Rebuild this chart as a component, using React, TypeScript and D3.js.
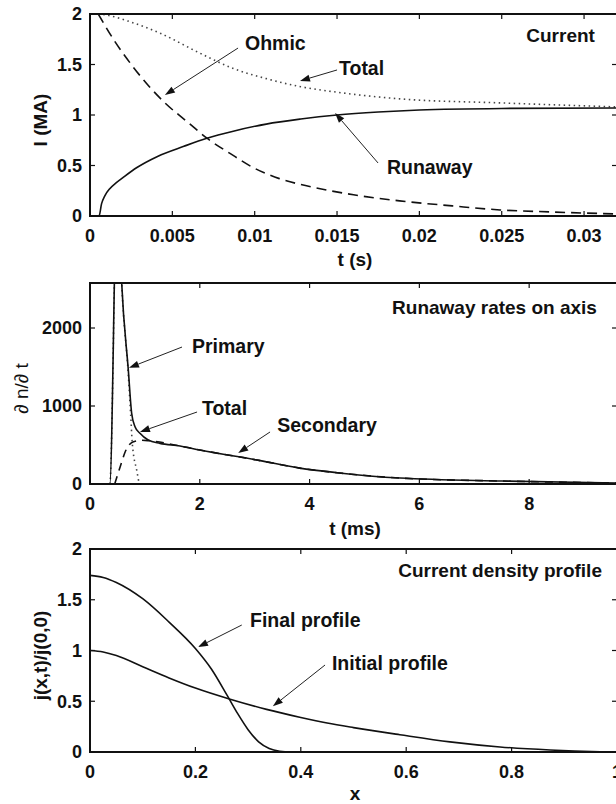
import React from "react";
import * as d3 from "d3";

// ---------- Panel 1: Current ----------
const curXTicks = [0, 0.005, 0.01, 0.015, 0.02, 0.025, 0.03];
const curYTicks = [0, 0.5, 1, 1.5, 2];
const runawayT = [0, 0.00055, 0.0007, 0.0009, 0.0012, 0.0016, 0.002, 0.00285, 0.0041, 0.0057, 0.0071, 0.0087, 0.0107, 0.0128, 0.015, 0.0175, 0.02, 0.025, 0.032];
const runawayI = [0, 0, 0.12, 0.2, 0.27, 0.33, 0.38, 0.48, 0.59, 0.69, 0.77, 0.84, 0.91, 0.96, 1.0, 1.03, 1.05, 1.065, 1.07];
const ohmicT = [0.0005, 0.0015, 0.0026, 0.0035, 0.00455, 0.006, 0.0071, 0.0085, 0.0099, 0.0115, 0.0134, 0.016, 0.0188, 0.022, 0.0249, 0.028, 0.032];
const ohmicI = [2.0, 1.73, 1.48, 1.3, 1.12, 0.92, 0.77, 0.62, 0.48, 0.37, 0.29, 0.21, 0.15, 0.1, 0.06, 0.04, 0.02];
const totalCurT = [0.0005, 0.001, 0.0023, 0.00425, 0.0067, 0.0087, 0.0107, 0.0128, 0.0148, 0.0188, 0.0249, 0.032];
const totalCurI = [2.0, 1.99, 1.93, 1.81, 1.61, 1.46, 1.36, 1.28, 1.23, 1.16, 1.12, 1.08];

// ---------- Panel 2: Runaway rates ----------
const rateXTicks = [0, 2, 4, 6, 8];
const rateYTicks = [0, 1000, 2000];
const rateTotalT = [0, 0.36, 0.5, 0.577, 0.698, 0.759, 0.82, 0.91, 1.06, 1.275, 1.64, 2.0, 3.1, 3.82, 4.5, 5.65, 7.5, 9.6];
const rateTotalV = [0, 0, 4000, 2580, 1460, 906, 735, 650, 564, 521, 487, 436, 300, 204, 145, 76, 38, 13];
const primaryT = [0, 0.36, 0.5, 0.577, 0.698, 0.74, 0.77, 0.85, 0.91, 1.0];
const primaryV = [0, 0, 4000, 2580, 1400, 900, 525, 180, 0, 0];
const secondaryT = [0.45, 0.55, 0.64, 0.78, 0.94, 1.06, 1.64, 2.0, 3.1, 3.82, 4.5, 5.65, 7.5, 9.6];
const secondaryV = [0, 220, 410, 540, 560, 556, 487, 436, 300, 204, 145, 76, 38, 13];

// ---------- Panel 3: Current density profile ----------
const profXTicks = [0, 0.2, 0.4, 0.6, 0.8, 1];
const profYTicks = [0, 0.5, 1, 1.5, 2];
const finalX = [0, 0.025, 0.05, 0.1, 0.15, 0.2, 0.23, 0.26, 0.28, 0.3, 0.32, 0.34, 0.36, 0.38, 0.45];
const finalJ = [1.74, 1.72, 1.67, 1.51, 1.28, 1.02, 0.82, 0.56, 0.38, 0.22, 0.1, 0.035, 0.008, 0, 0];
const initialX = [0, 0.025, 0.05, 0.1, 0.15, 0.2, 0.266, 0.335, 0.4, 0.45, 0.5, 0.588, 0.683, 0.778, 0.873, 0.968, 1.0];
const initialJ = [1.0, 0.985, 0.95, 0.84, 0.73, 0.63, 0.52, 0.42, 0.34, 0.285, 0.24, 0.17, 0.1, 0.05, 0.02, 0.003, 0];

// annotations: [label, textX, textY, tailX, tailY, headX, headY] in data units
const curNotes: [string, number, number, number, number, number, number][] = [
  ["Ohmic", 0.00941, 1.713, 0.00899, 1.663, 0.00455, 1.198],
  ["Total", 0.01512, 1.465, 0.015, 1.446, 0.01275, 1.337],
  ["Runaway", 0.01803, 0.485, 0.01749, 0.525, 0.01488, 1.02],
];
const rateNotes: [string, number, number, number, number, number, number][] = [
  ["Primary", 1.858, 1769, 1.676, 1756, 0.71, 1490],
  ["Total", 2.04, 974, 1.95, 923, 0.91, 667],
  ["Secondary", 3.41, 756, 3.28, 667, 2.7, 397],
];
const profNotes: [string, number, number, number, number, number, number][] = [
  ["Final profile", 0.3036, 1.3, 0.288, 1.251, 0.205, 1.034],
  ["Initial profile", 0.459, 0.877, 0.446, 0.857, 0.347, 0.45],
];

const FONT = "'Liberation Sans', Arial, Helvetica, sans-serif";
const X0 = 90;
const X1 = 617;

type Series = { xs: number[]; ys: number[]; dash?: string; color?: string; width?: number };

function Panel(props: {
  id: string;
  top: number;
  bottom: number;
  xDomain: [number, number];
  yDomain: [number, number];
  xTicks: number[];
  yTicks: number[];
  xFmt: (v: number) => string;
  series: Series[];
  notes: [string, number, number, number, number, number, number][];
  title: string;
  titleX: number;
  titleY: number;
  xLabel: string;
  xLabelY: number;
  yLabel: string;
  yLabelX: number;
  yLabelBold: boolean;
}) {
  const x = d3.scaleLinear().domain(props.xDomain).range([X0, X1]);
  const y = d3.scaleLinear().domain(props.yDomain).range([props.bottom, props.top]);
  const clipId = "clip-" + props.id;
  const tl = 5;
  const midY = (props.top + props.bottom) / 2;
  return (
    <g>
      <defs>
        <clipPath id={clipId}>
          <rect x={X0} y={props.top} width={X1 - X0} height={props.bottom - props.top} />
        </clipPath>
      </defs>
      <g clipPath={`url(#${clipId})`}>
        {props.series.map((s, i) => {
          const pts = s.xs.map((v, k) => [v, s.ys[k]] as [number, number]);
          const line = d3
            .line<[number, number]>()
            .x((d) => x(d[0]))
            .y((d) => y(d[1]))
            .curve(d3.curveMonotoneX);
          return (
            <path
              key={i}
              d={line(pts) || ""}
              fill="none"
              stroke={s.color || "#111"}
              strokeWidth={s.width || 1.6}
              strokeDasharray={s.dash}
            />
          );
        })}
      </g>
      <rect x={X0} y={props.top} width={X1 - X0} height={props.bottom - props.top} fill="none" stroke="#111" strokeWidth={2} />
      {props.xTicks.map((t, i) => (
        <g key={"xt" + i}>
          <line x1={x(t)} x2={x(t)} y1={props.bottom} y2={props.bottom - tl} stroke="#111" strokeWidth={1.2} />
          <line x1={x(t)} x2={x(t)} y1={props.top} y2={props.top + tl} stroke="#111" strokeWidth={1.2} />
          <text x={x(t)} y={props.bottom + 26} textAnchor="middle" fontFamily={FONT} fontWeight="bold" fontSize={18} fill="#111">
            {props.xFmt(t)}
          </text>
        </g>
      ))}
      {props.yTicks.map((t, i) => (
        <g key={"yt" + i}>
          <line x1={X0} x2={X0 + tl} y1={y(t)} y2={y(t)} stroke="#111" strokeWidth={1.2} />
          <line x1={X1} x2={X1 - tl} y1={y(t)} y2={y(t)} stroke="#111" strokeWidth={1.2} />
          <text x={X0 - 8} y={y(t)} dy="0.36em" textAnchor="end" fontFamily={FONT} fontWeight="bold" fontSize={18} fill="#111">
            {String(t)}
          </text>
        </g>
      ))}
      {props.notes.map((n, i) => {
        const [label, tx, ty, ax, ay, hx, hy] = n;
        const x1 = x(ax), y1 = y(ay), x2 = x(hx), y2 = y(hy);
        const ang = Math.atan2(y2 - y1, x2 - x1);
        const L = 10, Wd = 3.5;
        const bx = x2 - L * Math.cos(ang), by = y2 - L * Math.sin(ang);
        const p1 = [bx + Wd * Math.sin(ang), by - Wd * Math.cos(ang)];
        const p2 = [bx - Wd * Math.sin(ang), by + Wd * Math.cos(ang)];
        return (
          <g key={"n" + i}>
            <line x1={x1} y1={y1} x2={bx} y2={by} stroke="#222" strokeWidth={1} />
            <polygon points={`${x2},${y2} ${p1[0]},${p1[1]} ${p2[0]},${p2[1]}`} fill="#111" />
            <text x={x(tx)} y={y(ty)} dy="0.36em" fontFamily={FONT} fontWeight="bold" fontSize={19.5} fill="#111">
              {label}
            </text>
          </g>
        );
      })}
      <text x={x(props.titleX)} y={y(props.titleY)} dy="0.36em" textAnchor="end" fontFamily={FONT} fontWeight="bold" fontSize={19} fill="#111">
        {props.title}
      </text>
      <text x={355} y={props.xLabelY} textAnchor="middle" fontFamily={FONT} fontWeight="bold" fontSize={19} fill="#111">
        {props.xLabel}
      </text>
      <text
        transform={`translate(${props.yLabelX},${midY + 5}) rotate(-90)`}
        textAnchor="middle"
        dy="0.36em"
        fontFamily={FONT}
        fontWeight={props.yLabelBold ? "bold" : "normal"}
        fontSize={19}
        fill="#111"
      >
        {props.yLabel}
      </text>
    </g>
  );
}

export default function App() {
  const fmt = (v: number) => String(v);
  return (
    <svg width={616} height={804} style={{ position: "absolute", left: 0, top: 0, background: "#fff" }}>
      <rect x={0} y={0} width={616} height={804} fill="#fff" />
      <Panel
        id="cur"
        top={14}
        bottom={216}
        xDomain={[0, 0.032]}
        yDomain={[0, 2]}
        xTicks={curXTicks}
        yTicks={curYTicks}
        xFmt={fmt}
        series={[
          { xs: ohmicT, ys: ohmicI, dash: "10,6" },
          { xs: totalCurT, ys: totalCurI, dash: "1.5,3.5", color: "#444" },
          { xs: runawayT, ys: runawayI },
        ]}
        notes={curNotes}
        title="Current"
        titleX={0.03066}
        titleY={1.792}
        xLabel="t (s)"
        xLabelY={266}
        yLabel="I (MA)"
        yLabelX={40}
        yLabelBold={true}
      />
      <Panel
        id="rate"
        top={283}
        bottom={484}
        xDomain={[0, 9.6]}
        yDomain={[0, 2577]}
        xTicks={rateXTicks}
        yTicks={rateYTicks}
        xFmt={fmt}
        series={[
          { xs: secondaryT, ys: secondaryV, dash: "8,6" },
          { xs: primaryT, ys: primaryV, dash: "1.5,3.5", color: "#444" },
          { xs: rateTotalT, ys: rateTotalV },
        ]}
        notes={rateNotes}
        title="Runaway rates on axis"
        titleX={9.235}
        titleY={2269}
        xLabel="t (ms)"
        xLabelY={535}
        yLabel="∂ n/∂ t"
        yLabelX={21}
        yLabelBold={false}
      />
      <Panel
        id="prof"
        top={549}
        bottom={752}
        xDomain={[0, 1]}
        yDomain={[0, 2]}
        xTicks={profXTicks}
        yTicks={profYTicks}
        xFmt={fmt}
        series={[
          { xs: initialX, ys: initialJ },
          { xs: finalX, ys: finalJ },
        ]}
        notes={profNotes}
        title="Current density profile"
        titleX={0.9715}
        titleY={1.793}
        xLabel="x"
        xLabelY={800}
        yLabel="j(x,t)/j(0,0)"
        yLabelX={40}
        yLabelBold={true}
      />
    </svg>
  );
}
